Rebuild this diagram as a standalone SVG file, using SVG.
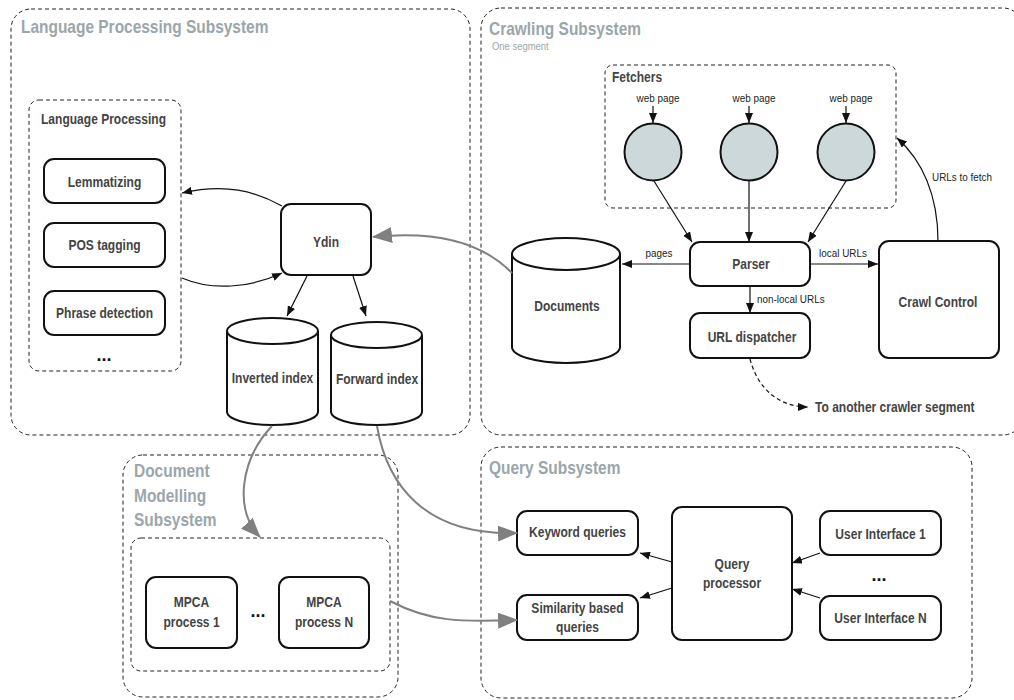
<svg xmlns="http://www.w3.org/2000/svg" width="1014" height="700" viewBox="0 0 1014 700">
<defs>
<style>
.sub{fill:none;stroke:#222;stroke-width:1;stroke-dasharray:4 3}
.box{fill:#fff;stroke:#111;stroke-width:2}
.t{font-family:"Liberation Sans",Arial,sans-serif;font-weight:bold;font-size:14px;fill:#444;text-anchor:middle}
.s{text-anchor:start}
.title{font-family:"Liberation Sans",Arial,sans-serif;font-weight:bold;font-size:18px;fill:#9ba6aa}
.lbl{font-family:"Liberation Sans",Arial,sans-serif;font-size:11.5px;fill:#222}
.m{text-anchor:middle}
.dots{font-family:"Liberation Sans",Arial,sans-serif;font-weight:bold;font-size:18px;fill:#111;text-anchor:middle}
.ln{fill:none;stroke:#111;stroke-width:1.2}
.gl{fill:none;stroke:#808080;stroke-width:2}
</style>
<marker id="ah" viewBox="0 0 10 8" refX="10" refY="4" markerWidth="10" markerHeight="8" markerUnits="userSpaceOnUse" orient="auto">
<path d="M0,0 L10,4 L0,8 Z" fill="#111"/>
</marker>
<marker id="gh" viewBox="0 0 20 16" refX="19" refY="8" markerWidth="20" markerHeight="16" markerUnits="userSpaceOnUse" orient="auto">
<path d="M0,0 L20,8 L0,16 Z" fill="#808080"/>
</marker>
</defs>

<g id="language-processing-subsystem">
<rect class="sub" x="11" y="9" width="459" height="426" rx="20"/>
<text class="title" transform="matrix(0.86 0 0 1 21 33)">Language Processing Subsystem</text>
</g>
<g id="language-processing">
<rect class="sub" x="29" y="100" width="152" height="271" rx="10"/>
<text class="t s" transform="matrix(0.86 0 0 1 41 124)">Language Processing</text>
<text class="dots" x="104" y="361">...</text>
</g>
<g id="lemmatizing">
<rect class="box" x="44" y="159" width="121" height="44" rx="10"/>
<text class="t" transform="matrix(0.86 0 0 1 104.5 187)">Lemmatizing</text>
</g>
<g id="pos-tagging">
<rect class="box" x="44" y="223" width="121" height="44" rx="10"/>
<text class="t" transform="matrix(0.86 0 0 1 104.5 250)">POS tagging</text>
</g>
<g id="phrase-detection">
<rect class="box" x="44" y="291" width="121" height="44" rx="10"/>
<text class="t" transform="matrix(0.86 0 0 1 104.5 318)">Phrase detection</text>
</g>
<g id="ydin">
<rect class="box" x="281" y="204" width="90" height="71" rx="10"/>
<text class="t" transform="matrix(0.86 0 0 1 326 247)">Ydin</text>
</g>
<g id="inverted-index">
<path class="box" d="M227,331 A45.5,13 0 0 1 318,331 L318,412 A45.5,13 0 0 1 227,412 Z"/>
<path class="box" d="M227,331 A45.5,13 0 0 0 318,331" fill="none"/>
<text class="t" transform="matrix(0.86 0 0 1 272.5 383)">Inverted index</text>
</g>
<g id="forward-index">
<path class="box" d="M331,335 A45.5,13 0 0 1 422,335 L422,412 A45.5,13 0 0 1 331,412 Z"/>
<path class="box" d="M331,335 A45.5,13 0 0 0 422,335" fill="none"/>
<text class="t" transform="matrix(0.86 0 0 1 377 384)">Forward index</text>
</g>

<g id="crawling-subsystem">
<rect class="sub" x="481" y="8" width="542" height="427" rx="20"/>
<text class="title" transform="matrix(0.86 0 0 1 489 35)">Crawling Subsystem</text>
<text class="lbl" transform="matrix(0.86 0 0 1 492 50)" style="font-size:11px;fill:#9ba6aa">One segment</text>
</g>
<g id="fetchers">
<rect class="sub" x="605" y="65" width="291" height="143" rx="8"/>
<text class="t s" transform="matrix(0.86 0 0 1 612 82)">Fetchers</text>
<circle cx="653" cy="152" r="28.5" fill="#cdd8db" stroke="#111" stroke-width="2"/>
<circle cx="749" cy="152" r="28.5" fill="#cdd8db" stroke="#111" stroke-width="2"/>
<circle cx="846" cy="152" r="28.5" fill="#cdd8db" stroke="#111" stroke-width="2"/>
<text class="lbl m" transform="matrix(0.86 0 0 1 658 102)">web page</text>
<text class="lbl m" transform="matrix(0.86 0 0 1 754 102)">web page</text>
<text class="lbl m" transform="matrix(0.86 0 0 1 851 102)">web page</text>
</g>
<g id="documents">
<path class="box" d="M512,254 A54,16 0 0 1 620,254 L620,347 A54,16 0 0 1 512,347 Z"/>
<path class="box" d="M512,254 A54,16 0 0 0 620,254" fill="none"/>
<text class="t" transform="matrix(0.86 0 0 1 567 311)">Documents</text>
</g>
<g id="parser">
<rect class="box" x="690" y="242" width="120" height="44" rx="10"/>
<text class="t" transform="matrix(0.86 0 0 1 751 269)">Parser</text>
</g>
<g id="url-dispatcher">
<rect class="box" x="690" y="313" width="120" height="45" rx="10"/>
<text class="t" transform="matrix(0.86 0 0 1 752 342)">URL dispatcher</text>
</g>
<g id="crawl-control">
<rect class="box" x="879" y="241" width="120" height="117" rx="10"/>
<text class="t" transform="matrix(0.86 0 0 1 938 307)">Crawl Control</text>
</g>
<g id="another-segment">
<text class="t s" transform="matrix(0.86 0 0 1 815 412)">To another crawler segment</text>
</g>

<g id="document-modelling-subsystem">
<rect class="sub" x="123" y="455" width="275" height="242" rx="20"/>
<text class="title" transform="matrix(0.86 0 0 1 134 477)">Document</text>
<text class="title" transform="matrix(0.86 0 0 1 134 502)">Modelling</text>
<text class="title" transform="matrix(0.86 0 0 1 134 526)">Subsystem</text>
<rect class="sub" x="131" y="538" width="259" height="133" rx="10"/>
<text class="dots" x="258" y="617">...</text>
</g>
<g id="mpca-1">
<rect class="box" x="146" y="577" width="91" height="71" rx="10"/>
<text class="t" transform="matrix(0.86 0 0 1 191.5 607)">MPCA</text>
<text class="t" transform="matrix(0.86 0 0 1 191.5 627)">process 1</text>
</g>
<g id="mpca-n">
<rect class="box" x="279" y="577" width="90" height="71" rx="10"/>
<text class="t" transform="matrix(0.86 0 0 1 324 607)">MPCA</text>
<text class="t" transform="matrix(0.86 0 0 1 324 627)">process N</text>
</g>

<g id="query-subsystem">
<rect class="sub" x="481" y="447" width="491" height="251" rx="20"/>
<text class="title" transform="matrix(0.86 0 0 1 489 474)">Query Subsystem</text>
<text class="dots" x="879" y="581">...</text>
</g>
<g id="keyword-queries">
<rect class="box" x="517" y="511" width="121" height="44" rx="10"/>
<text class="t" transform="matrix(0.86 0 0 1 577.5 537)">Keyword queries</text>
</g>
<g id="similarity-queries">
<rect class="box" x="517" y="595" width="121" height="45" rx="10"/>
<text class="t" transform="matrix(0.86 0 0 1 577.5 613)">Similarity based</text>
<text class="t" transform="matrix(0.86 0 0 1 577.5 632)">queries</text>
</g>
<g id="query-processor">
<rect class="box" x="672" y="507" width="120" height="133" rx="10"/>
<text class="t" transform="matrix(0.86 0 0 1 732 569)">Query</text>
<text class="t" transform="matrix(0.86 0 0 1 732 588)">processor</text>
</g>
<g id="ui-1">
<rect class="box" x="820" y="511" width="121" height="44" rx="10"/>
<text class="t" transform="matrix(0.86 0 0 1 880.5 539)">User Interface 1</text>
</g>
<g id="ui-n">
<rect class="box" x="820" y="596" width="121" height="44" rx="10"/>
<text class="t" transform="matrix(0.86 0 0 1 880.5 623)">User Interface N</text>
</g>

<g id="connectors">
<path class="ln" marker-end="url(#ah)" d="M282,206 C255,191 225,183 182,193"/>
<path class="ln" marker-end="url(#ah)" d="M182,278 C212,291 250,288 282,273"/>
<path class="ln" marker-end="url(#ah)" d="M307,276 L287,316"/>
<path class="ln" marker-end="url(#ah)" d="M353,276 L366,316"/>
<path class="ln" marker-end="url(#ah)" d="M653,106 L653,123"/>
<path class="ln" marker-end="url(#ah)" d="M749,106 L749,123"/>
<path class="ln" marker-end="url(#ah)" d="M846,106 L846,123"/>
<path class="ln" marker-end="url(#ah)" d="M654,181 L692,242"/>
<path class="ln" marker-end="url(#ah)" d="M749,181 L749,242"/>
<path class="ln" marker-end="url(#ah)" d="M846,181 L808,242"/>
<path class="ln" marker-end="url(#ah)" d="M690,264 L622,264"/>
<text class="lbl m" transform="matrix(0.86 0 0 1 659 257)">pages</text>
<path class="ln" marker-end="url(#ah)" d="M810,264 L878,264"/>
<text class="lbl m" transform="matrix(0.86 0 0 1 843 257)">local URLs</text>
<path class="ln" marker-end="url(#ah)" d="M750,286 L750,313"/>
<text class="lbl" transform="matrix(0.86 0 0 1 757 303)">non-local URLs</text>
<path class="ln" marker-end="url(#ah)" d="M938,241 C938,195 922,160 897,138"/>
<text class="lbl" transform="matrix(0.86 0 0 1 932 181)">URLs to fetch</text>
<path class="ln" marker-end="url(#ah)" d="M750,359 C758,390 780,407 808,407" stroke-dasharray="4 3"/>
<path class="gl" marker-end="url(#gh)" d="M512,273 C480,240 430,231 373,237"/>
<path class="gl" marker-end="url(#gh)" d="M272,426 C240,460 234,510 260,537"/>
<path class="gl" marker-end="url(#gh)" d="M377,426 C387,485 425,536 517,533"/>
<path class="gl" marker-end="url(#gh)" d="M390,601 C430,622 460,622 517,620"/>
<path class="ln" marker-end="url(#ah)" d="M672,562 L640,553"/>
<path class="ln" marker-end="url(#ah)" d="M672,588 L640,598"/>
<path class="ln" marker-end="url(#ah)" d="M820,553 L792,563"/>
<path class="ln" marker-end="url(#ah)" d="M820,598 L792,589"/>
</g>
</svg>
